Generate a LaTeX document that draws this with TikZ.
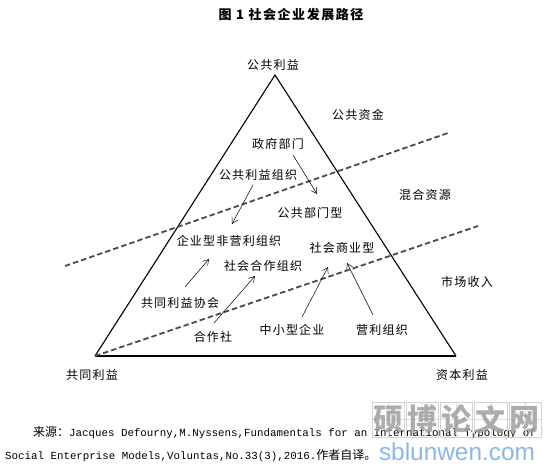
\documentclass[tikz,border=0pt]{standalone}
\usepackage{fontspec}
\setmainfont{Liberation Sans}
\newfontfamily\cjk{Noto Sans CJK SC}
\newfontfamily\cjkls[LetterSpace=10]{Noto Sans CJK SC}
\newfontfamily\cjkt[LetterSpace=12]{Noto Sans CJK SC}
\newfontfamily\mono{Liberation Mono}
\usetikzlibrary{arrows.meta}
\definecolor{dashgray}{RGB}{75,75,75}
\definecolor{wmblue}{RGB}{125,175,232}
\begin{document}
\begin{tikzpicture}[x=1pt,y=-1pt,
  lbl/.style={font=\cjkls\fontsize{12}{14}\selectfont, inner sep=0pt},
  arr/.style={-{Straight Barb[length=5.5pt,width=6.5pt]}, line width=0.5pt},
  side/.style={line width=1.1pt},
  divider/.style={dashgray, line width=1.8pt, dash pattern=on 5.5pt off 3pt},
  wmbox/.style={draw=gray!35, line width=0.5pt},
  wmgrid/.style={draw=gray!25, line width=0.3pt}]
\useasboundingbox (0,0) rectangle (560,473);
% title
\node[font=\cjkt\bfseries\fontsize{13}{15}\selectfont, inner sep=0pt] (title) at (291,15) {图 1 社会企业发展路径};
% triangle
\coordinate (A) at (275,75);
\coordinate (B) at (95,356);
\coordinate (C) at (456,356);
\draw[side, line join=miter] (B) -- (A) -- (C);
\draw[line width=1.7pt] (B) -- (C);
% dashed dividers
\coordinate (d1s) at (65,266);
\coordinate (d1e) at (448,133);
\coordinate (d2e) at (478,226);
\draw[divider] (d1s) -- (d1e);
\draw[divider] (B) -- (d2e);
% labels
\node[lbl] (top) at (273,65) {公共利益};
\node[lbl] (zj) at (358,115) {公共资金};
\node[lbl] (zf) at (278,144) {政府部门};
\node[lbl] (ggly) at (258,175) {公共利益组织};
\node[lbl] (hh) at (425,195) {混合资源};
\node[lbl] (ggbm) at (310,213) {公共部门型};
\node[lbl] (qyfy) at (229,241) {企业型非营利组织};
\node[lbl] (shsy) at (342,248) {社会商业型};
\node[lbl] (shhz) at (263,266) {社会合作组织};
\node[lbl] (sc) at (467,282) {市场收入};
\node[lbl] (gtxh) at (180,303) {共同利益协会};
\node[lbl] (hzs) at (213,337) {合作社};
\node[lbl] (zxqy) at (292,330) {中小型企业};
\node[lbl] (ylzz) at (382,330) {营利组织};
\node[lbl] (gt) at (92,375) {共同利益};
\node[lbl] (zb) at (462,375) {资本利益};
% arrow end points
\coordinate (a1s) at (293,155); \coordinate (a1e) at (317,194);
\coordinate (a2s) at (253,185); \coordinate (a2e) at (232,224);
\coordinate (a3s) at (185,287); \coordinate (a3e) at (209,259);
\coordinate (a4s) at (214,323); \coordinate (a4e) at (255,276);
\coordinate (a5s) at (302,317); \coordinate (a5e) at (328,267);
\coordinate (a6s) at (373,315); \coordinate (a6e) at (347,263);
\draw[arr] (a1s) -- (a1e);
\draw[arr] (a2s) -- (a2e);
\draw[arr] (a3s) -- (a3e);
\draw[arr] (a4s) -- (a4e);
\draw[arr] (a5s) -- (a5e);
\draw[arr] (a6s) -- (a6e);
% source
\node[anchor=west, inner sep=0pt] (src1) at (33,433) {{\cjk\fontsize{12}{14}\selectfont 来源：}{\mono\fontsize{10.8}{13}\selectfont Jacques Defourny,M.Nyssens,Fundamentals for an International Typology of}};
\node[anchor=west, inner sep=0pt] (src2) at (5,456) {{\mono\fontsize{10.8}{13}\selectfont Social Enterprise Models,Voluntas,No.33(3),2016.}{\cjk\fontsize{12}{14}\selectfont 作者自译。}};
% watermark
\foreach \i/\ch in {0/硕,1/博,2/论,3/文,4/网}{
  \draw[wmgrid] (371+\i*34.2+17.1,402) -- (371+\i*34.2+17.1,437);
  \draw[wmgrid] (371+\i*34.2,419.5) -- (371+\i*34.2+34.2,419.5);
  \draw[wmbox] (371+\i*34.2+1,402) rectangle (371+\i*34.2+33.2,437);
  \node[font=\cjk\bfseries\fontsize{30}{30}\selectfont, text=gray!75, opacity=0.85, inner sep=0pt] (wm\i) at (371+\i*34.2+17.1,419.5) {\ch};
}
\node[font=\fontsize{24.4}{26}\selectfont, text=wmblue, opacity=0.9, inner sep=0pt] (wmurl) at (457,452) {sblunwen.com};
\end{tikzpicture}
\end{document}
